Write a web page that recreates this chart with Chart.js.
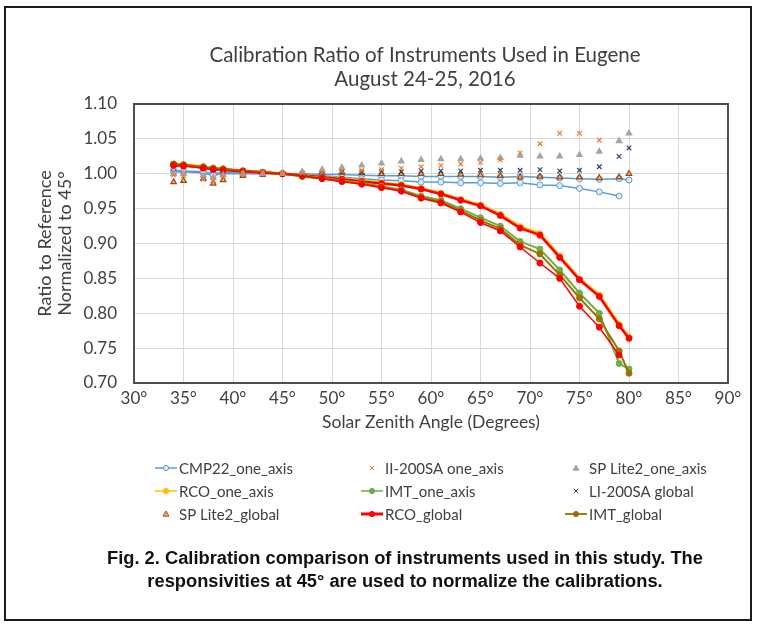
<!DOCTYPE html>
<html><head><meta charset="utf-8">
<script src="https://cdn.jsdelivr.net/npm/chart.js@4/dist/chart.umd.min.js"></script>
<style>
html,body{margin:0;padding:0;background:#fff;overflow:hidden;}
#wrap{position:relative;width:759px;height:625px;}
#frame{position:absolute;left:4px;top:6px;width:748px;height:615px;border:2px solid #1a1a1a;box-sizing:border-box;}
#c{position:absolute;left:0;top:0;}
#cap{position:absolute;left:30px;top:546px;width:750px;text-align:center;font-family:"Liberation Sans",Arial,sans-serif;font-weight:bold;font-size:18.3px;line-height:23px;color:#111;}
</style></head>
<body><div id="wrap"><div id="frame"></div><canvas id="c" width="759" height="625"></canvas>
<div id="cap">Fig. 2. Calibration comparison of instruments used in this study. The<br>responsivities at 45° are used to normalize the calibrations.</div></div>
<script>
const titleLines = ['Calibration Ratio of Instruments Used in Eugene', 'August 24-25, 2016'];
const xTitle = 'Solar Zenith Angle (Degrees)';
const yTitle = ['Ratio to Reference', 'Normalized to 45°'];
const xTicks = [30,35,40,45,50,55,60,65,70,75,80,85,90];
const yTicks = [0.70,0.75,0.80,0.85,0.90,0.95,1.00,1.05,1.10];

const angles = [34,35,37,38,39,41,43,45,47,49,51,53,55,57,59,61,63,65,67,69,71,73,75,77,79,80];
const cmp22OneAxis = [1.003,1.003,1.001,0.998,1.000,1.000,1.000,1.000,0.998,0.997,0.995,0.993,0.991,0.990,0.988,0.988,0.987,0.987,0.986,0.987,0.984,0.983,0.979,0.974,0.968,null];
const cmp22Global = [1.005,1.004,1.003,1.000,1.002,1.001,1.000,1.000,1.000,0.999,0.999,0.998,0.997,0.997,0.996,0.996,0.996,0.996,0.995,0.996,0.995,0.994,0.993,0.992,0.993,0.991];
const li200OneAxis = [0.998,0.997,0.992,0.990,0.996,1.000,1.001,1.000,1.001,1.002,1.004,1.005,1.006,1.008,1.010,1.012,1.014,1.016,1.020,1.030,1.043,1.058,1.058,1.048,null,null];
const spLiteOneAxis = [1.000,1.000,0.998,0.995,0.998,1.000,1.000,1.000,1.003,1.006,1.009,1.012,1.015,1.018,1.020,1.021,1.021,1.022,1.023,1.026,1.025,1.025,1.027,1.032,1.047,1.058];
const rcoOneAxis = [1.014,1.013,1.010,1.008,1.007,1.004,1.002,1.000,0.998,0.995,0.993,0.990,0.987,0.984,0.979,0.972,0.963,0.955,0.942,0.924,0.914,0.882,0.849,0.826,0.784,0.766];
const imtOneAxis = [1.012,1.012,1.009,1.006,1.005,1.003,1.002,1.000,0.997,0.994,0.990,0.987,0.982,0.977,0.968,0.962,0.950,0.937,0.925,0.903,0.892,0.862,0.829,0.800,0.728,0.720];
const li200Global = [1.002,1.000,0.997,0.990,0.998,1.000,1.000,1.000,1.000,1.001,1.002,1.002,1.003,1.003,1.004,1.004,1.004,1.005,1.005,1.005,1.006,1.004,1.005,1.010,1.025,1.037];
const spLiteGlobal = [0.988,0.990,0.993,0.986,0.991,0.997,0.999,1.000,1.001,1.002,1.002,1.001,1.000,1.000,1.000,1.000,0.999,0.998,0.997,0.995,0.996,0.995,0.995,0.994,0.995,1.000];
const rcoGlobal = [1.013,1.012,1.009,1.007,1.006,1.004,1.002,1.000,0.998,0.995,0.992,0.989,0.986,0.983,0.978,0.971,0.962,0.954,0.940,0.922,0.912,0.880,0.848,0.824,0.782,0.764];
const imtGlobal = [1.014,1.013,1.010,1.008,1.007,1.004,1.002,1.000,0.996,0.993,0.989,0.986,0.981,0.976,0.966,0.960,0.947,0.933,0.921,0.898,0.885,0.855,0.822,0.792,0.746,0.714];
const rcoLower = [1.012,1.011,1.008,1.006,1.005,1.003,1.001,1.000,0.997,0.993,0.989,0.985,0.980,0.975,0.965,0.958,0.945,0.930,0.918,0.895,0.872,0.850,0.810,0.780,0.740,null];

const pts = arr => angles.map((a,i)=>({x:a,y:arr[i]})).filter(p=>p.y!==null);
const FONT = 'Lato';
const TXT = '#404040';

function lineDs(label, arr, color, width, bg, order, legendWidth, legend=true){
  return {label, data: pts(arr), showLine:true, borderColor:color, backgroundColor:bg||color,
    borderWidth:width, pointRadius:3, pointBorderWidth:1, pointStyle:'circle',
    pointBackgroundColor:bg||color, pointBorderColor:color, order, inLegend:legend, lineKind:true, legendWidth};
}
function markDs(label, arr, color, style, bg, order, legend=true){
  return {label, data: pts(arr), showLine:false, borderColor:color, backgroundColor:bg||color,
    pointRadius:3.2, pointBorderWidth:1.2, pointStyle:style, pointBackgroundColor:bg||color,
    pointBorderColor:color, order, inLegend:legend, lineKind:false};
}

const datasets = [
  lineDs('CMP22_one_axis', cmp22OneAxis, '#5B9BD5', 1.5, '#DEEBF7', 8, 1.5),
  markDs('II-200SA one_axis', li200OneAxis, '#ED7D31', 'crossRot', null, 1),
  markDs('SP Lite2_one_axis', spLiteOneAxis, '#A5A5A5', 'triangle', null, 1),
  lineDs('RCO_one_axis', rcoOneAxis, '#FFC000', 3, null, 6, 1.5),
  lineDs('IMT_one_axis', imtOneAxis, '#70AD47', 2, null, 4, 1.5),
  markDs('LI-200SA global', li200Global, '#264478', 'crossRot', null, 1),
  markDs('SP Lite2_global', spLiteGlobal, '#9E480E', 'triangle', '#F4B183', 1),
  lineDs('RCO_global', rcoGlobal, '#FF0000', 2.5, null, 5, 3),
  lineDs('IMT_global', imtGlobal, '#997300', 2, null, 3, 1.8),
  lineDs('CMP22_global', cmp22Global, '#5B9BD5', 1.5, '#DEEBF7', 9, 1.5, false),
  lineDs('RCO_global_2', rcoLower, '#FF0000', 1.5, null, 2, 1.5, false)
];

const plotBorder = {
  id:'plotBorder',
  beforeDatasetsDraw(chart){
    const {ctx, chartArea:a} = chart;
    ctx.save(); ctx.strokeStyle='#4d4d4d'; ctx.lineWidth=2;
    ctx.strokeRect(a.left, a.top, a.right-a.left, a.bottom-a.top);
    ctx.restore();
  }
};

function drawMarker(ctx, style, x, y, r, fill, stroke, lw){
  ctx.save(); ctx.fillStyle=fill; ctx.strokeStyle=stroke; ctx.lineWidth=lw;
  ctx.beginPath();
  if(style==='circle'){ ctx.arc(x,y,r,0,Math.PI*2); ctx.fill(); ctx.stroke(); }
  else if(style==='triangle'){
    const h=r*1.5; ctx.moveTo(x,y-h*0.75); ctx.lineTo(x+r*1.15,y+h*0.55); ctx.lineTo(x-r*1.15,y+h*0.55); ctx.closePath(); ctx.fill(); ctx.stroke();
  } else if(style==='crossRot'){
    const d=r*0.85; ctx.moveTo(x-d,y-d); ctx.lineTo(x+d,y+d); ctx.moveTo(x+d,y-d); ctx.lineTo(x-d,y+d); ctx.stroke();
  }
  ctx.restore();
}

const headerAndLegend = {
  id:'headerAndLegend',
  afterDraw(chart){
    const {ctx, chartArea:a} = chart;
    const cx = (a.left+a.right)/2 - 6;
    ctx.save();
    ctx.fillStyle = TXT; ctx.textAlign='center'; ctx.textBaseline='middle';
    ctx.font = `20.5px ${FONT}`;
    ctx.fillText(titleLines[0], cx, 55);
    ctx.fillText(titleLines[1], cx, 79);
    const items = chart.data.datasets.filter(d=>d.inLegend);
    const cols = [155, 361, 565];
    const rows = [468, 491, 514];
    ctx.font = `15px ${FONT}`; ctx.textAlign='left';
    items.forEach((d,i)=>{
      const x0 = cols[i%3], y = rows[Math.floor(i/3)];
      const w = 22;
      if(d.lineKind){
        ctx.save(); ctx.strokeStyle=d.borderColor; ctx.lineWidth=d.legendWidth;
        ctx.beginPath(); ctx.moveTo(x0,y); ctx.lineTo(x0+w,y); ctx.stroke(); ctx.restore();
        drawMarker(ctx,'circle',x0+w/2,y,2.6,d.pointBackgroundColor,d.pointBorderColor,1);
      } else {
        drawMarker(ctx,d.pointStyle,x0+w/2,y,2.6,d.pointBackgroundColor,d.pointBorderColor,1);
      }
      ctx.fillStyle = TXT;
      ctx.fillText(d.label, x0+w+2, y+1);
    });
    ctx.restore();
  }
};

new Chart(document.getElementById('c'), {
  type:'scatter',
  data:{datasets},
  options:{
    responsive:false, animation:false,
    layout:{padding:{left:30,right:31,top:104,bottom:192}},
    plugins:{legend:{display:false}, title:{display:false}, tooltip:{enabled:false}},
    scales:{
      x:{type:'linear', min:30, max:90,
        afterBuildTicks(s){ s.ticks = xTicks.map(v=>({value:v})); },
        ticks:{callback:v=>v+'°', color:TXT, font:{family:FONT,size:17}, padding:5, maxRotation:0, autoSkip:false},
        grid:{color:'#d9d9d9', lineWidth:1, drawTicks:false},
        border:{display:false},
        title:{display:true, text:xTitle, color:TXT, font:{family:FONT,size:17.5}, padding:{top:0,bottom:0}},
        afterFit(s){ s.height = 50; }
      },
      y:{min:0.70, max:1.10,
        afterBuildTicks(s){ s.ticks = yTicks.map(v=>({value:v})); },
        ticks:{callback:v=>Number(v).toFixed(2), color:TXT, font:{family:FONT,size:17}, padding:17},
        grid:{color:'#d9d9d9', lineWidth:1, drawTicks:false},
        border:{display:false},
        title:{display:true, text:yTitle, color:TXT, font:{family:FONT,size:18,lineHeight:1.1}, padding:{top:5,bottom:0}},
        afterFit(s){ s.width = 104; }
      }
    }
  },
  plugins:[plotBorder, headerAndLegend]
});
</script></body></html>
